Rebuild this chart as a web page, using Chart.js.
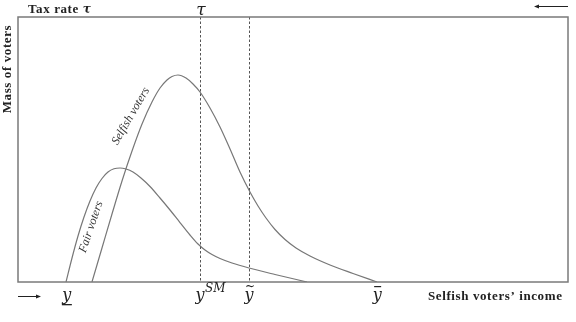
<!DOCTYPE html>
<html><head><meta charset="utf-8">
<script src="https://cdn.jsdelivr.net/npm/chart.js@4/dist/chart.umd.min.js"></script>
<style>html,body{margin:0;padding:0;background:#fff}#wrap{width:576px;height:322px}</style>
</head><body><div id="wrap"><canvas id="c" width="576" height="322"></canvas></div>
<script>
// Income axis (0-100 units), mass of voters (0-100 units)
const fairX = [8.73, 9.82, 10.91, 12.00, 13.09, 14.18, 15.27, 16.36, 17.45, 18.55, 19.64, 20.91, 22.36, 24.00, 25.82, 27.64, 29.45, 31.27, 32.73, 34.00, 35.27, 36.73, 38.91, 42.00, 46.73, 52.55];
const fairY = [0, 9.06, 17.36, 24.53, 30.57, 35.47, 39.06, 41.51, 42.72, 43.02, 42.64, 41.51, 39.25, 36.04, 31.70, 27.17, 22.45, 17.74, 14.34, 12.08, 10.38, 8.87, 7.17, 5.28, 2.83, 0];
const selfishX = [13.45, 15.27, 17.09, 18.91, 20.73, 22.55, 24.36, 25.82, 27.09, 28.00, 29.09, 30.55, 31.82, 33.09, 34.91, 36.73, 38.55, 40.36, 42.18, 43.64, 45.09, 46.73, 48.55, 50.55, 53.09, 56.73, 60.91, 65.27];
const selfishY = [0, 12.83, 25.66, 38.11, 49.43, 59.62, 67.92, 73.21, 76.23, 77.55, 78.11, 76.98, 74.72, 71.70, 65.66, 58.49, 50.19, 41.51, 33.96, 28.68, 24.15, 19.81, 16.04, 12.83, 9.81, 6.42, 3.21, 0];
const markerX = [8.7, 33.1, 42.0, 65.3];          // y_, y^SM, y~, y-bar
const markerNames = ['ylow', 'ySM', 'ytilde', 'ybar'];
const dashedAt = [33.1, 42.0];                    // y^SM and y~
const curveLabels = ['Selfish voters', 'Fair voters'];
const curveLabelX = [20.5, 13.3];
const curveLabelY = [62.6, 20.8];
const curveLabelAngle = [-60, -71];

const toPts = (xs, ys) => xs.map((x, i) => ({x, y: ys[i]}));

const overlay = {
  id: 'overlay',
  afterDraw(chart) {
    const ctx = chart.ctx, a = chart.chartArea, sx = chart.scales.x, sy = chart.scales.y;
    ctx.save();
    // dashed verticals
    ctx.strokeStyle = '#555'; ctx.lineWidth = 1; ctx.setLineDash([2.5, 2]);
    dashedAt.forEach(v => {
      const px = Math.round(sx.getPixelForValue(v)) + 0.5;
      ctx.beginPath(); ctx.moveTo(px, a.top); ctx.lineTo(px, a.bottom); ctx.stroke();
    });
    ctx.setLineDash([]);
    // frame
    ctx.strokeStyle = '#7a7a7a'; ctx.lineWidth = 1.5;
    ctx.strokeRect(a.left, a.top, a.right - a.left, a.bottom - a.top);
    // curve labels
    ctx.fillStyle = '#333';
    ctx.font = 'italic 12px "Liberation Serif"';
    ctx.textAlign = 'center'; ctx.textBaseline = 'middle';
    curveLabels.forEach((t, i) => {
      ctx.save();
      ctx.translate(sx.getPixelForValue(curveLabelX[i]), sy.getPixelForValue(curveLabelY[i]));
      ctx.rotate(curveLabelAngle[i] * Math.PI / 180);
      ctx.fillText(t, 0, 0);
      ctx.restore();
    });
    // axis titles
    ctx.fillStyle = '#222';
    ctx.letterSpacing = '0.6px';
    ctx.font = 'bold 13px "Liberation Serif"';
    ctx.textAlign = 'left'; ctx.textBaseline = 'alphabetic';
    ctx.fillText('Tax rate ', 28, 13);
    const w = ctx.measureText('Tax rate ').width;
    ctx.font = 'bold italic 12px "DejaVu Serif"';
    ctx.fillText('τ', 28 + w, 13);
    ctx.font = 'bold 13px "Liberation Serif"';
    ctx.fillText('Selfish voters\u2019 income', 428, 300);
    ctx.save();
    ctx.translate(11, 69); ctx.rotate(-Math.PI / 2);
    ctx.textAlign = 'center';
    ctx.fillText('Mass of voters', 0, 0);
    ctx.restore();
    ctx.letterSpacing = '0px';
    // tau on top
    ctx.font = 'italic 17px "DejaVu Serif"';
    ctx.textAlign = 'center';
    ctx.fillText('τ', sx.getPixelForValue(markerX[1]) + 1, 15);
    // arrows
    ctx.strokeStyle = '#222'; ctx.fillStyle = '#222'; ctx.lineWidth = 1;
    ctx.beginPath(); ctx.moveTo(536, 6.5); ctx.lineTo(568, 6.5); ctx.stroke();
    ctx.beginPath(); ctx.moveTo(534, 6.5); ctx.lineTo(539, 4.5); ctx.lineTo(539, 8.5); ctx.closePath(); ctx.fill();
    ctx.beginPath(); ctx.moveTo(18, 296.5); ctx.lineTo(38, 296.5); ctx.stroke();
    ctx.beginPath(); ctx.moveTo(41, 296.5); ctx.lineTo(36, 294.5); ctx.lineTo(36, 298.5); ctx.closePath(); ctx.fill();
    // income markers
    ctx.font = 'italic 16px "DejaVu Serif"';
    ctx.textAlign = 'center'; ctx.textBaseline = 'alphabetic';
    markerX.forEach((v, i) => {
      const px = sx.getPixelForValue(v);
      const name = markerNames[i];
      if (name === 'ylow') {
        const x0 = px + 1;
        ctx.fillText('y', x0, 300);
        ctx.fillRect(x0 - 5, 304, 10, 1.3);
      } else if (name === 'ySM') {
        ctx.fillText('y', px, 300);
        ctx.font = 'italic 12px "DejaVu Serif"';
        ctx.textAlign = 'left';
        ctx.fillText('SM', px + 5, 292);
        ctx.font = 'italic 16px "DejaVu Serif"';
        ctx.textAlign = 'center';
      } else if (name === 'ytilde') {
        ctx.fillText('y', px, 300);
        ctx.font = '12px "DejaVu Serif"';
        ctx.fillText('~', px + 1, 290);
        ctx.font = 'italic 16px "DejaVu Serif"';
      } else {
        ctx.fillText('y', px, 300);
        ctx.fillRect(px - 3, 286, 7, 1.2);
      }
    });
    ctx.restore();
  }
};

new Chart(document.getElementById('c'), {
  type: 'scatter',
  data: {
    datasets: [
      {label: 'Selfish voters', data: toPts(selfishX, selfishY), showLine: true, borderColor: '#777', borderWidth: 1.2, pointRadius: 0, cubicInterpolationMode: 'monotone', fill: false},
      {label: 'Fair voters', data: toPts(fairX, fairY), showLine: true, borderColor: '#777', borderWidth: 1.2, pointRadius: 0, cubicInterpolationMode: 'monotone', fill: false}
    ]
  },
  options: {
    responsive: false, animation: false, devicePixelRatio: 1,
    layout: {padding: {left: 18, right: 8, top: 17, bottom: 40}},
    plugins: {legend: {display: false}, tooltip: {enabled: false}},
    scales: {
      x: {type: 'linear', min: 0, max: 100, display: false},
      y: {type: 'linear', min: 0, max: 100, display: false}
    }
  },
  plugins: [overlay]
});
</script>
</body></html>
